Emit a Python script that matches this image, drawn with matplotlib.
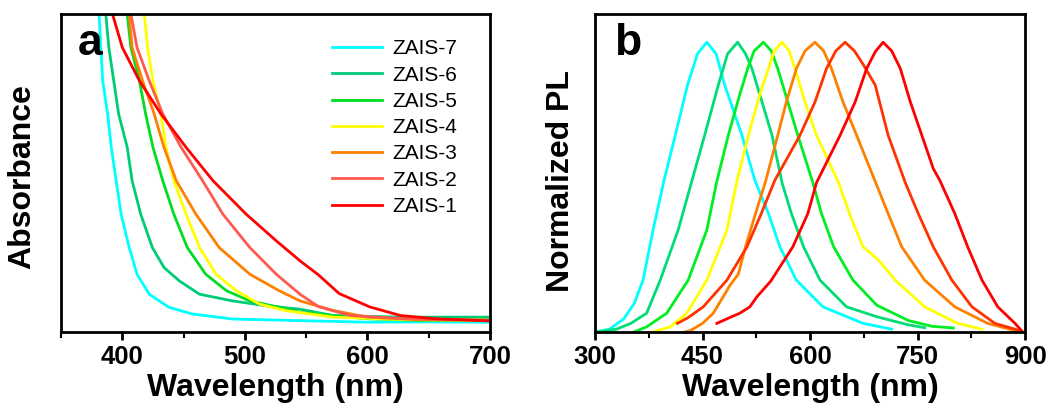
import matplotlib
matplotlib.use("Agg")
import matplotlib.pyplot as plt
from matplotlib.ticker import MultipleLocator, NullLocator

plt.rcParams["font.family"] = ["Liberation Sans", "DejaVu Sans"]

labels = ["ZAIS-7", "ZAIS-6", "ZAIS-5", "ZAIS-4", "ZAIS-3", "ZAIS-2", "ZAIS-1"]
colors_abs = ["#00FFFF", "#00CC77", "#00DD22", "#FFFF00", "#FF8000", "#FF5A50", "#FF0000"]
colors_pl = ["#00FFFF", "#00DD77", "#00EE22", "#FFFF00", "#FF8000", "#FF3300", "#FF0000"]

# absorbance spectra (a.u.)
abs_wl = [
    [380, 381, 382.5, 384, 388, 391, 395, 399, 405.6, 412, 422, 438, 457, 490, 545, 600, 650, 700],
    [385.5, 386.5, 389, 393, 397, 404, 408, 415, 424.5, 434, 446.5, 463, 490, 517, 545, 572, 627, 700],
    [403, 404, 407, 414, 419, 425, 433, 442, 453, 468, 485, 504, 528, 545, 600, 640, 700],
    [417, 418, 420.6, 425, 431.5, 435.6, 442, 452, 463, 476.5, 493, 512, 534, 572, 630, 700],
    [404.5, 405.6, 408, 416.5, 426, 434, 444, 460, 479, 504, 528, 545, 572, 600, 640, 700],
    [406, 407, 412, 422, 433, 448, 465.5, 482, 504, 525.6, 545, 560, 586, 630, 700],
    [390, 392, 400, 414, 431.5, 452, 474, 501, 525.6, 545, 560, 577, 602, 627, 655, 700],
]
abs_val = [
    [1.05, 1.0, 0.895, 0.79, 0.686, 0.581, 0.476, 0.371, 0.266, 0.182, 0.119, 0.078, 0.057, 0.041, 0.036, 0.031, 0.032, 0.031],
    [1.05, 1.0, 0.895, 0.79, 0.686, 0.581, 0.476, 0.371, 0.266, 0.203, 0.161, 0.119, 0.098, 0.083, 0.072, 0.052, 0.047, 0.047],
    [1.05, 1.0, 0.895, 0.79, 0.686, 0.581, 0.476, 0.371, 0.266, 0.182, 0.13, 0.098, 0.078, 0.062, 0.042, 0.037, 0.039],
    [1.05, 1.0, 0.895, 0.79, 0.686, 0.581, 0.476, 0.371, 0.266, 0.182, 0.13, 0.088, 0.067, 0.047, 0.039, 0.037],
    [1.05, 1.0, 0.895, 0.79, 0.686, 0.581, 0.476, 0.371, 0.266, 0.182, 0.13, 0.098, 0.068, 0.047, 0.039, 0.037],
    [1.05, 1.0, 0.895, 0.79, 0.686, 0.581, 0.476, 0.371, 0.266, 0.182, 0.119, 0.08, 0.052, 0.042, 0.037],
    [1.05, 1.0, 0.895, 0.79, 0.686, 0.581, 0.476, 0.371, 0.287, 0.224, 0.18, 0.121, 0.079, 0.052, 0.042, 0.035],
]

# normalized PL spectra
pl_wl = [
    [300, 320, 340, 355, 367, 381, 396, 412, 429, 443, 456, 469, 481, 505, 523, 542, 558, 581, 618, 674, 714],
    [300, 330, 350, 372, 391, 416, 435, 453, 472, 485, 499, 510, 519, 533, 547, 561, 574, 591, 614, 651, 693, 737, 760],
    [354, 372, 400, 430, 456, 470, 486, 502, 513, 522, 535, 546, 555, 569, 583, 604, 616, 633, 660, 693, 737, 770, 800],
    [380, 405, 428, 456, 484, 498, 514, 530, 542, 550, 561, 571, 579, 593, 609, 640, 655, 674, 695, 719, 760, 806, 840],
    [425, 433, 450, 465, 488, 500, 510, 524, 538, 555, 567, 581, 593, 607, 619, 630, 646, 665, 693, 709, 728, 760, 802, 848, 886, 895],
    [415, 430, 451, 484, 512, 532, 551, 586, 607, 623, 636, 649, 662, 675, 691, 709, 733, 751, 772, 798, 826, 858, 893],
    [470, 488, 502, 516, 526, 545, 576, 597, 609, 642, 663, 679, 691, 702, 714, 726, 740, 756, 772, 781, 802, 820, 840, 862, 886, 897],
]
pl_val = [
    [0.0, 0.01, 0.045, 0.10, 0.179, 0.352, 0.52, 0.679, 0.852, 0.96, 1.0, 0.96, 0.852, 0.679, 0.524, 0.409, 0.294, 0.179, 0.087, 0.03, 0.01],
    [0.0, 0.01, 0.03, 0.065, 0.179, 0.352, 0.52, 0.679, 0.852, 0.96, 1.0, 0.96, 0.909, 0.794, 0.679, 0.515, 0.409, 0.294, 0.179, 0.087, 0.053, 0.025, 0.015],
    [0.0, 0.018, 0.065, 0.179, 0.352, 0.52, 0.679, 0.82, 0.909, 0.97, 1.0, 0.97, 0.909, 0.794, 0.679, 0.515, 0.409, 0.294, 0.179, 0.093, 0.04, 0.02, 0.014],
    [0.0, 0.018, 0.065, 0.179, 0.352, 0.52, 0.679, 0.82, 0.909, 0.97, 1.0, 0.97, 0.909, 0.794, 0.679, 0.515, 0.409, 0.294, 0.25, 0.179, 0.087, 0.03, 0.01],
    [0.0, 0.005, 0.03, 0.065, 0.16, 0.2, 0.294, 0.409, 0.52, 0.679, 0.794, 0.909, 0.97, 1.0, 0.97, 0.909, 0.794, 0.679, 0.507, 0.409, 0.294, 0.179, 0.087, 0.03, 0.005, 0.0],
    [0.03, 0.05, 0.087, 0.179, 0.294, 0.409, 0.524, 0.679, 0.794, 0.909, 0.97, 1.0, 0.97, 0.92, 0.852, 0.679, 0.515, 0.409, 0.294, 0.179, 0.087, 0.03, 0.005],
    [0.03, 0.05, 0.065, 0.087, 0.122, 0.175, 0.294, 0.409, 0.515, 0.679, 0.794, 0.909, 0.967, 1.0, 0.97, 0.909, 0.794, 0.679, 0.564, 0.524, 0.409, 0.294, 0.179, 0.087, 0.03, 0.0],
]

fig = plt.figure(figsize=(10.47, 4.03), dpi=100)
ax_a = fig.add_axes([0.0583, 0.176, 0.4097, 0.789])
ax_b = fig.add_axes([0.5683, 0.176, 0.4107, 0.789])

label_font = dict(fontsize=23, fontweight="bold")

# panel a: absorbance
for wl, val, c, lab in zip(abs_wl, abs_val, colors_abs, labels):
    ax_a.plot(wl, val, color=c, lw=2, label=lab)
ax_a.set_xlim(350, 700)
ax_a.set_ylim(0, 1.0)
ax_a.xaxis.set_major_locator(MultipleLocator(100))
ax_a.xaxis.set_minor_locator(MultipleLocator(50))
ax_a.set_xlabel("Wavelength (nm)", **label_font)
ax_a.set_ylabel("Absorbance", **label_font)
ax_a.yaxis.set_label_coords(-0.056, 0.49)
ax_a.xaxis.set_label_coords(0.5, -0.13)
ax_a.text(0.04, 0.87, "a", transform=ax_a.transAxes, fontsize=32, fontweight="bold")
ax_a.legend(loc="upper left", bbox_to_anchor=(0.589, 0.98), frameon=False,
            fontsize=15, handlelength=2.4, handletextpad=0.5, labelspacing=0.35)

# panel b: normalized PL
for wl, val, c in zip(pl_wl, pl_val, colors_pl):
    ax_b.plot(wl, val, color=c, lw=2)
ax_b.set_xlim(300, 900)
ax_b.set_ylim(0, 1.097)
ax_b.xaxis.set_major_locator(MultipleLocator(150))
ax_b.xaxis.set_minor_locator(MultipleLocator(75))
ax_b.set_xlabel("Wavelength (nm)", **label_font)
ax_b.set_ylabel("Normalized PL", **label_font)
ax_b.yaxis.set_label_coords(-0.045, 0.475)
ax_b.xaxis.set_label_coords(0.5, -0.13)
ax_b.text(0.045, 0.87, "b", transform=ax_b.transAxes, fontsize=32, fontweight="bold")

for ax in (ax_a, ax_b):
    ax.yaxis.set_major_locator(NullLocator())
    ax.yaxis.set_minor_locator(NullLocator())
    for sp in ax.spines.values():
        sp.set_linewidth(2)
    ax.tick_params(axis="x", which="major", direction="out", length=6, width=2, pad=3)
    ax.tick_params(axis="x", which="minor", direction="out", length=4, width=1.5)
    for t in ax.get_xticklabels():
        t.set_fontsize(18.5)
        t.set_fontweight("bold")

fig.savefig("out.png", dpi=100)
